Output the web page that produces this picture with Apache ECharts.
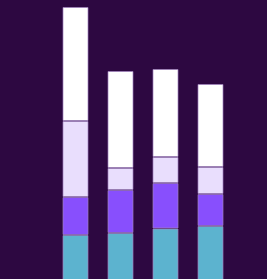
<!DOCTYPE html>
<html>
<head>
<meta charset="utf-8">
<script src="https://cdn.jsdelivr.net/npm/echarts@6/dist/echarts.min.js"></script>
<style>
  html, body { margin: 0; padding: 0; background: #2d0841; overflow: hidden; }
  #chart { width: 267px; height: 299px; }
</style>
</head>
<body>
<div id="chart"></div>
<script>
const categories = ['A', 'B', 'C', 'D']
const tealValues = [64, 66, 70.5, 73]
const purpleValues = [38, 43, 45.5, 32]
const lavenderValues = [76, 22, 26, 27]
const whiteValues = [114, 97, 88, 83]

const chart = echarts.init(document.getElementById('chart'))

const makeSeries = (name, data, color) => ({
  name: name,
  type: 'bar',
  stack: 'total',
  barWidth: 26,
  data: data,
  itemStyle: {
    color: color,
    borderColor: 'rgba(160, 130, 190, 0.7)',
    borderWidth: 1
  }
})

chart.setOption({
  backgroundColor: '#2d0841',
  animation: false,
  // bars run past the bottom edge, so the plot is taller than the window
  grid: { left: 53, right: 34, top: 0, bottom: 0 },
  xAxis: {
    type: 'category',
    data: categories,
    show: false
  },
  yAxis: {
    type: 'value',
    min: 0,
    max: 299,
    show: false
  },
  series: [
    makeSeries('teal', tealValues, '#5cb3cf'),
    makeSeries('purple', purpleValues, '#884ffd'),
    makeSeries('lavender', lavenderValues, '#e9defd'),
    makeSeries('white', whiteValues, '#ffffff')
  ]
})
</script>
</body>
</html>
